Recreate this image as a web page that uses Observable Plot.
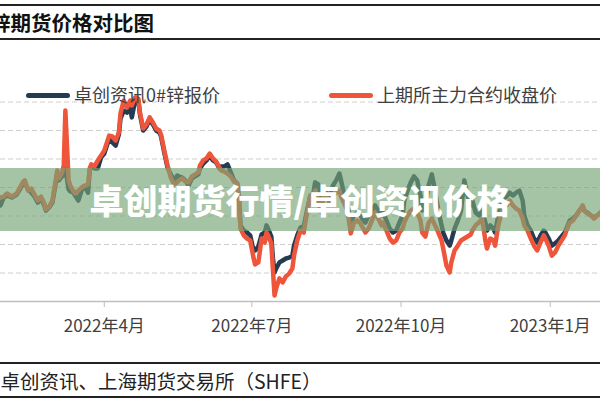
<!DOCTYPE html>
<html><head><meta charset="utf-8">
<script src="https://cdn.jsdelivr.net/npm/d3@7"></script>
<script src="https://cdn.jsdelivr.net/npm/@observablehq/plot@0.6"></script>
<style>
html,body{margin:0;padding:0;background:#fff;}
#wrap{position:relative;width:600px;height:400px;overflow:hidden;font-family:"Noto Sans CJK SC","Noto Sans",sans-serif;}
.rule{position:absolute;left:0;width:600px;height:2px;background:#222;}
#title{position:absolute;left:-10px;top:8px;font-size:20.5px;font-weight:bold;color:#111;white-space:nowrap;line-height:28px;}
#footer{position:absolute;left:-58px;top:367px;font-size:19.5px;color:#222;white-space:nowrap;line-height:28px;}
#chart{position:absolute;left:0;top:44px;}
.leg{position:absolute;top:81px;font-size:18px;color:#404040;white-space:nowrap;line-height:26px;}
.leg span{display:inline-block;width:44px;height:5px;border-radius:3px;vertical-align:middle;margin-right:4px;position:relative;top:-2px;}
#banner{position:absolute;left:0;top:168px;width:600px;height:63px;background:rgba(117,165,117,0.65);color:#fff;font-size:34px;font-weight:900;text-align:center;line-height:63px;white-space:nowrap;}
#chart g[aria-label="x-axis tick"] path{stroke:#bfbfbf;}
#chart g[aria-label="x-axis tick label"] text{fill:#404040;}
</style></head>
<body><div id="wrap">
<div class="rule" style="top:4px"></div>
<div id="title"></div>
<div class="rule" style="top:38px"></div>
<div id="chart"></div>
<div class="leg" id="leg1" style="left:26px"><span style="background:#243b53"></span></div>
<div class="leg" id="leg2" style="left:329px"><span style="background:#ef553b"></span></div>
<div id="banner"></div>
<div class="rule" style="top:362px"></div>
<div id="footer"></div>
<div class="rule" style="top:396px"></div>
</div>
<script>
const titleText = "锌期货价格对比图";
const sourceText = "来源：卓创资讯、上海期货交易所（SHFE）";
const bannerText = "卓创期货行情/卓创资讯价格";
const seriesNames = ["卓创资讯0#锌报价", "上期所主力合约收盘价"];
const tickDates = ["2022-04-01", "2022-07-01", "2022-10-01", "2023-01-01"];
const tickLabels = ["2022年4月", "2022年7月", "2022年10月", "2023年1月"];
const gridValues = [22000, 23000, 24000, 25000, 26000, 27000, 28000];
const yDomain = [21000, 29000];
const xDomain = ["2022-01-27", "2023-02-01"];

const dates = [
"2022-01-27","2022-01-29","2022-01-31","2022-02-03","2022-02-06","2022-02-10","2022-02-11","2022-02-13","2022-02-15","2022-02-17",
"2022-02-19","2022-02-21","2022-02-23","2022-02-24","2022-02-26","2022-02-28","2022-03-02","2022-03-03","2022-03-04","2022-03-06",
"2022-03-07","2022-03-08","2022-03-10","2022-03-11","2022-03-12","2022-03-14","2022-03-16","2022-03-18","2022-03-20","2022-03-22",
"2022-03-23","2022-03-24","2022-03-26","2022-03-28","2022-03-30","2022-04-01","2022-04-02","2022-04-04","2022-04-06","2022-04-08",
"2022-04-10","2022-04-11","2022-04-13","2022-04-15","2022-04-17","2022-04-18","2022-04-20","2022-04-22","2022-04-23","2022-04-25",
"2022-04-27","2022-04-29","2022-05-01","2022-05-03","2022-05-05","2022-05-06","2022-05-08","2022-05-10","2022-05-12","2022-05-14",
"2022-05-16","2022-05-17","2022-05-19","2022-05-21","2022-05-23","2022-05-25","2022-05-27","2022-05-29","2022-05-30","2022-06-01",
"2022-06-03","2022-06-05","2022-06-07","2022-06-09","2022-06-11","2022-06-12","2022-06-14","2022-06-16","2022-06-18","2022-06-20",
"2022-06-22","2022-06-23","2022-06-24","2022-06-26","2022-06-28","2022-06-30","2022-07-02","2022-07-03","2022-07-05","2022-07-07",
"2022-07-09","2022-07-10","2022-07-11","2022-07-13","2022-07-14","2022-07-15","2022-07-16","2022-07-18","2022-07-20","2022-07-22",
"2022-07-24","2022-07-26","2022-07-27","2022-07-29","2022-07-31","2022-08-02","2022-08-04","2022-08-06","2022-08-08","2022-08-09",
"2022-08-11","2022-08-13","2022-08-14","2022-08-16","2022-08-18","2022-08-20","2022-08-22","2022-08-24","2022-08-25","2022-08-27",
"2022-08-29","2022-08-31","2022-09-02","2022-09-04","2022-09-06","2022-09-07","2022-09-09","2022-09-11","2022-09-13","2022-09-15",
"2022-09-17","2022-09-19","2022-09-20","2022-09-22","2022-09-24","2022-09-26","2022-09-28","2022-09-30","2022-10-02","2022-10-03",
"2022-10-05","2022-10-07","2022-10-09","2022-10-11","2022-10-13","2022-10-14","2022-10-16","2022-10-18","2022-10-20","2022-10-22",
"2022-10-24","2022-10-26","2022-10-27","2022-10-29","2022-10-31","2022-11-01","2022-11-03","2022-11-05","2022-11-07","2022-11-09",
"2022-11-11","2022-11-13","2022-11-14","2022-11-16","2022-11-18","2022-11-20","2022-11-22","2022-11-23","2022-11-25","2022-11-27",
"2022-11-28","2022-11-30","2022-12-02","2022-12-03","2022-12-05","2022-12-07","2022-12-09","2022-12-11","2022-12-13","2022-12-15",
"2022-12-16","2022-12-18","2022-12-20","2022-12-22","2022-12-24","2022-12-26","2022-12-28","2022-12-29","2022-12-31","2023-01-02",
"2023-01-04","2023-01-06","2023-01-08","2023-01-10","2023-01-11","2023-01-13","2023-01-15","2023-01-17","2023-01-19","2023-01-21",
"2023-01-22","2023-01-24","2023-01-26","2023-01-28","2023-01-30","2023-02-01"
];

// 卓创资讯0#锌报价 (元/吨)
const spotPrice = [
24370,24650,24720,24650,24750,25140,25180,24930,24820,24680,
24470,24610,24370,24190,24300,24470,25140,25490,25250,25390,
25530,25670,24940,24860,24890,24720,24540,24890,25040,24820,
25600,25740,25670,25670,26050,26190,26370,26720,26580,26470,
26860,27420,27700,27630,27770,27460,28050,28050,27560,27000,
27140,27390,27210,27000,26930,26790,26230,25700,25460,25250,
25420,25390,25350,25250,25070,25320,25390,25460,25670,25840,
25950,26120,25950,25880,25670,25740,25740,25810,25530,25250,
25140,24650,23670,23490,23420,23320,22790,22790,22930,23350,
23420,23670,23560,23280,22510,22020,22160,22370,22440,22510,
22540,22610,22960,23320,23600,23630,24190,24680,24820,25180,
25110,24540,24890,24820,24680,25070,25250,25490,25250,24720,
24370,23770,24020,24120,24020,23910,23770,24020,24190,24370,
24190,24020,24120,23840,23560,23420,23490,23770,24020,24540,
24890,25180,25390,25250,24720,24190,24370,25070,25460,24890,
24190,23670,23420,23140,22960,23140,23560,23840,24190,25250,
24720,24370,24540,24120,24020,24190,23770,23490,23670,23560,
23420,24020,24370,24610,24680,24820,24720,24820,24890,24540,
24020,23670,23490,23210,23070,23320,23490,23420,23210,22960,
23040,23140,23280,23420,23560,23840,23910,24020,24190,24330,
24190,24120,24020,23950,24020,24120
];

// 上期所主力合约收盘价 (元/吨)
const shfePrice = [
24650,24680,24790,24680,24790,25210,25250,24890,24960,24750,
24540,24680,24440,24230,24330,24540,25250,25600,25320,25530,
25770,27700,25250,25070,24960,24790,24890,25000,25070,25110,
25670,25810,25740,25950,26120,26300,26470,26820,26790,26650,
26930,27600,28050,27810,28050,27880,28160,28120,27630,27070,
27210,27460,27280,27070,27000,26860,26300,25770,25350,25110,
25180,25250,25320,25210,25180,25390,25460,25530,25770,25950,
26020,26190,26020,25910,25700,25600,25560,25490,25390,25210,
25140,24540,23560,23320,23210,23140,22540,22300,22370,23210,
23070,23420,23320,23040,22090,21210,21460,21810,21670,21880,
21980,22160,22610,23140,23490,23420,24120,24720,24610,24890,
24540,24120,24720,24680,24470,24680,24820,24890,24680,24440,
24190,23390,23770,23840,23740,23630,23420,23560,23840,24120,
23910,23670,23770,23490,23210,23070,23140,23420,23560,23770,
24020,24190,24260,24120,23840,23420,23280,23770,23910,23670,
23420,23140,22860,22260,22020,22370,22790,22960,23140,23210,
23280,23350,23490,23670,23770,23910,23140,22860,23210,23140,
22960,23670,24120,24260,24370,24540,24370,24260,24190,23910,
23670,23490,23210,22960,22790,23070,23320,23210,22960,22610,
22720,22960,23140,23320,23490,23770,23840,24020,24190,24370,
24190,24090,24020,23910,24020,24120
];

document.getElementById("title").textContent = titleText;
document.getElementById("footer").textContent = sourceText;
document.getElementById("banner").textContent = bannerText;
document.getElementById("leg1").appendChild(document.createTextNode(seriesNames[0]));
document.getElementById("leg2").appendChild(document.createTextNode(seriesNames[1]));

const data = dates.map((d, i) => ({date: new Date(d + "T00:00"), spot: spotPrice[i], shfe: shfePrice[i]}));
const ticks = tickDates.map(d => new Date(d + "T00:00"));
const labelOf = new Map(ticks.map((d, i) => [+d, tickLabels[i]]));

const chart = Plot.plot({
  width: 600,
  height: 318,
  marginLeft: 0,
  marginRight: 0,
  marginTop: 29,
  marginBottom: 61,
  style: {fontFamily: '"Noto Sans CJK SC","Noto Sans",sans-serif', background: "transparent", color: "#404040"},
  x: {type: "time", domain: xDomain.map(d => new Date(d + "T00:00"))},
  y: {domain: yDomain, axis: null},
  marks: [
    Plot.ruleY(gridValues, {stroke: "#cfcfcf", strokeWidth: 1, strokeDasharray: "5,3"}),
    Plot.ruleY([yDomain[0]], {stroke: "#bfbfbf", strokeWidth: 1.5}),
    Plot.lineY(data, {x: "date", y: "spot", stroke: "#243b53", strokeWidth: 4.5, strokeLinejoin: "round", clip: true}),
    Plot.lineY(data, {x: "date", y: "shfe", stroke: "#ef553b", strokeWidth: 4.5, strokeLinejoin: "round", clip: true}),
    Plot.axisX(ticks, {tickSize: 6, tickPadding: 12, fontSize: 17, tickFormat: d => labelOf.get(+d), stroke: "#bfbfbf"})
  ]
});
document.getElementById("chart").appendChild(chart);
</script>
</body></html>
